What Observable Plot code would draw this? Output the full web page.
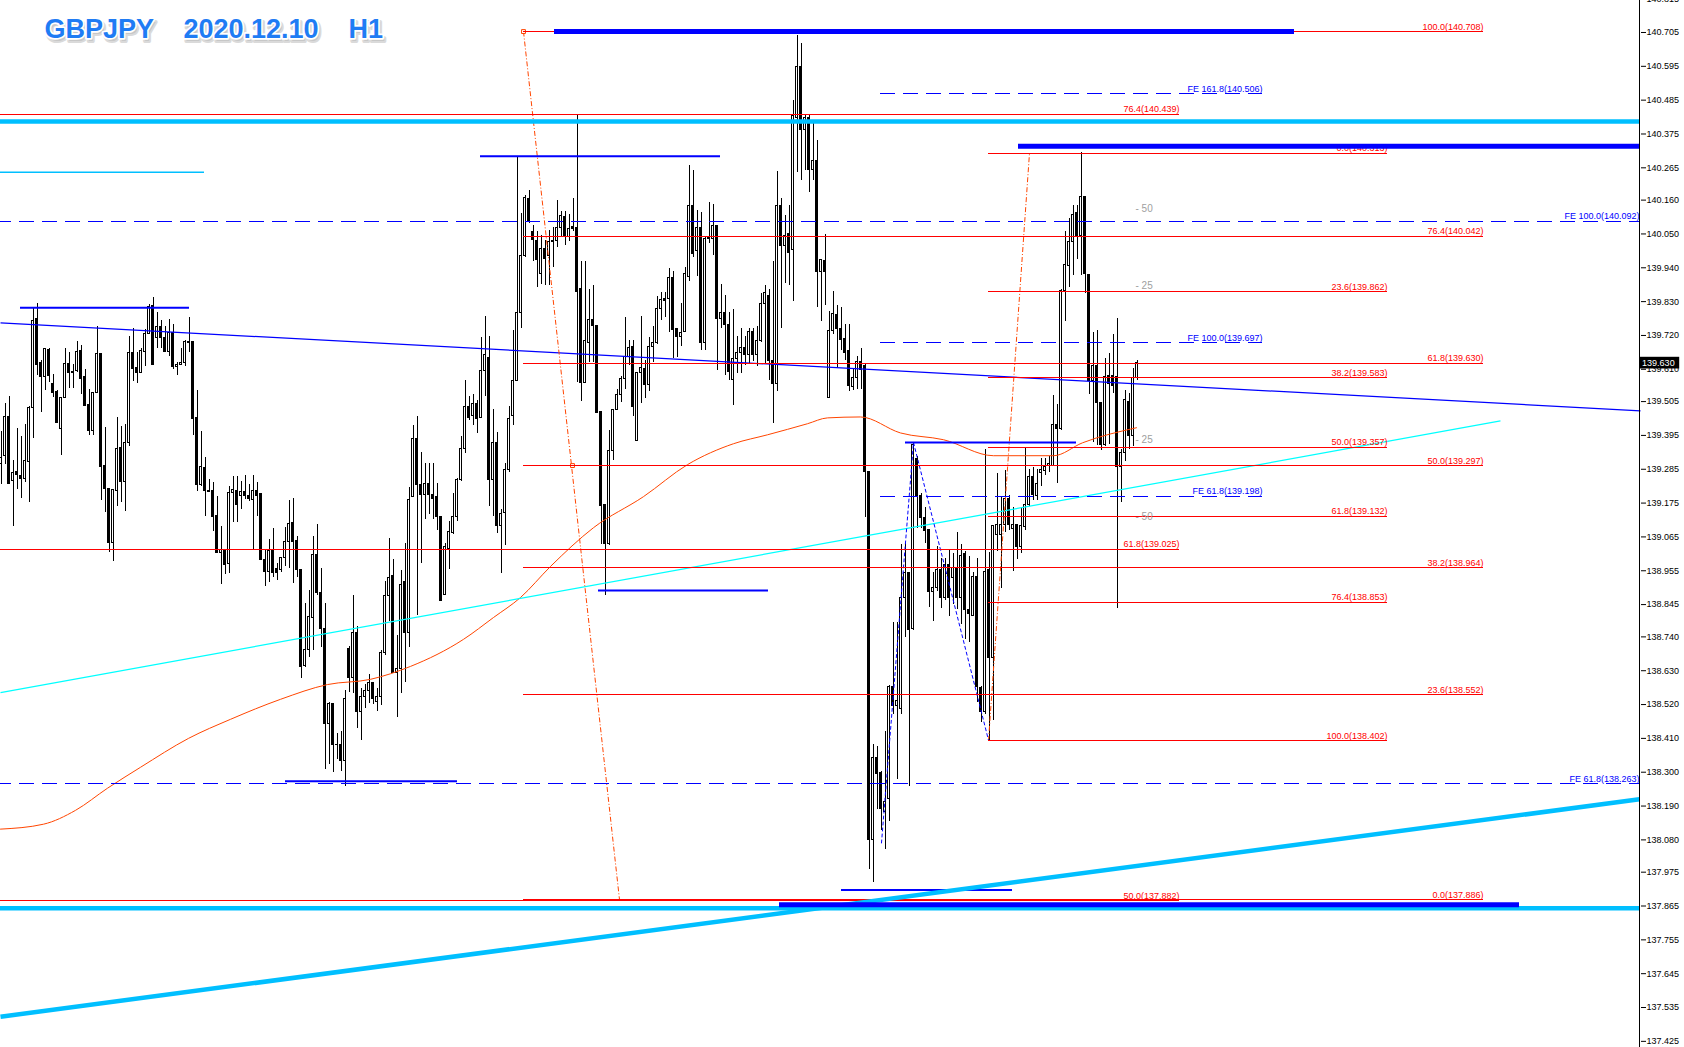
<!DOCTYPE html>
<html><head><meta charset="utf-8">
<script src="https://cdn.jsdelivr.net/npm/d3@7"></script>
<script src="https://cdn.jsdelivr.net/npm/@observablehq/plot@0.6"></script>
<style>html,body{margin:0;padding:0;background:#fff;}#chart{width:1684px;height:1047px;overflow:hidden;}</style>
</head><body><div id="chart"></div>
<script>
// ---------- candles (H1 bars, index 0 = leftmost) ----------
const open = [
139.303,139.329,139.455,139.248,139.277,139.264,139.254,139.309,139.485,139.773,
139.631,139.585,139.673,139.563,139.537,139.416,139.517,139.627,139.601,139.605,
139.670,139.585,139.494,139.410,139.533,139.660,139.296,139.222,139.046,139.215,
139.355,139.245,139.371,139.663,139.614,139.598,139.666,139.725,139.816,139.712,
139.748,139.712,139.666,139.728,139.618,139.624,139.631,139.699,139.699,139.452,
139.235,139.290,139.215,139.215,139.134,139.014,139.024,138.978,139.209,139.215,
139.199,139.212,139.199,139.186,139.215,139.206,138.991,138.952,139.020,138.962,
138.959,138.998,139.050,139.111,139.053,138.959,138.644,138.696,138.803,139.007,
138.884,138.764,138.456,138.521,138.390,138.387,138.336,138.699,138.605,138.754,
138.495,138.543,138.563,138.589,138.527,138.543,138.686,138.874,138.939,138.621,
138.637,138.920,138.751,139.196,139.384,139.235,139.202,139.238,139.202,139.196,
139.131,138.877,139.027,139.079,139.131,139.251,139.352,139.488,139.459,139.498,
139.452,139.605,139.647,139.251,139.371,139.102,139.144,139.283,139.459,139.572,
139.793,139.978,140.163,140.056,140.027,139.920,140.001,139.978,140.024,140.027,
140.069,140.105,140.040,140.072,140.069,139.871,139.566,139.696,139.770,139.751,
139.472,139.170,139.043,139.345,139.478,139.527,139.579,139.650,139.683,139.377,
139.598,139.611,139.559,139.683,139.696,139.806,139.838,139.838,139.907,139.741,
139.715,139.731,139.910,140.140,139.994,140.069,139.696,140.033,140.033,140.075,
139.773,139.793,139.754,139.575,139.644,139.663,139.679,139.657,139.731,139.657,
139.702,139.822,139.848,139.637,139.563,140.140,140.011,140.049,139.998,140.426,
140.592,140.387,140.426,140.257,140.286,139.926,139.962,139.517,139.735,139.787,
139.741,139.709,139.670,139.553,139.582,139.634,139.621,139.277,138.079,138.345,
138.296,138.170,138.212,138.576,138.514,138.504,138.866,138.949,138.764,139.319,
139.199,139.128,139.089,138.887,138.900,138.956,138.865,138.975,138.933,138.965,
138.865,139.011,138.826,138.809,138.936,138.573,138.495,138.956,138.670,139.072,
139.072,139.105,139.189,139.092,139.105,139.033,139.098,139.170,139.261,139.199,
139.274,139.280,139.296,139.296,139.430,139.416,139.864,139.946,140.024,140.118,
140.043,140.170,139.916,139.572,139.621,139.501,139.365,139.589,139.589,139.585,
139.293,139.339,139.504,139.394,139.582];
const high = [
139.407,139.498,139.520,139.313,139.416,139.390,139.429,139.488,139.812,139.825,
139.640,139.679,139.676,139.592,139.540,139.517,139.679,139.663,139.627,139.699,
139.686,139.608,139.543,139.533,139.748,139.660,139.420,139.222,139.218,139.452,
139.423,139.429,139.715,139.744,139.663,139.676,139.738,139.822,139.845,139.796,
139.770,139.748,139.773,139.754,139.631,139.676,139.705,139.777,139.699,139.540,
139.407,139.322,139.251,139.241,139.196,139.098,139.024,139.228,139.260,139.260,
139.244,139.264,139.235,139.264,139.241,139.206,139.024,139.056,139.092,138.978,
138.998,139.095,139.183,139.189,139.066,138.959,138.848,138.891,139.066,139.105,
138.962,138.848,138.527,138.524,138.426,138.433,138.566,138.709,138.874,138.774,
138.572,138.585,138.618,138.589,138.572,138.696,138.920,139.059,138.991,138.745,
138.956,139.043,139.225,139.426,139.455,139.339,139.303,139.303,139.303,139.238,
139.131,139.043,139.115,139.206,139.254,139.390,139.575,139.520,139.527,139.507,
139.712,139.780,139.715,139.478,139.403,139.154,139.303,139.488,139.735,140.299,
140.118,140.176,140.192,140.079,140.059,140.046,140.030,140.062,140.072,140.160,
140.124,140.124,140.114,140.166,140.436,139.959,139.959,139.868,139.881,139.751,
139.472,139.170,139.410,139.478,139.543,139.585,139.777,139.705,139.702,139.598,
139.783,139.640,139.712,139.748,139.848,139.861,139.861,139.939,139.929,139.741,
139.825,139.942,140.274,140.257,140.127,140.121,140.040,140.153,140.147,140.075,
139.887,139.851,139.796,139.803,139.715,139.744,139.715,139.744,139.741,139.748,
139.855,139.881,139.871,139.959,140.254,140.166,140.111,140.144,140.484,140.695,
140.669,140.436,140.439,140.419,140.354,139.965,140.049,139.799,139.864,139.816,
139.812,139.754,139.757,139.614,139.650,139.676,139.627,139.277,138.390,138.384,
138.303,138.433,138.582,138.787,138.787,139.040,139.043,138.949,139.372,139.326,
139.206,139.160,139.089,138.949,139.033,138.995,138.995,139.024,139.011,139.079,
139.040,139.017,139.001,138.949,138.995,138.579,139.348,139.014,139.102,139.270,
139.192,139.280,139.199,139.160,139.105,139.160,139.355,139.283,139.290,139.283,
139.319,139.319,139.326,139.524,139.494,139.871,140.059,140.101,140.144,140.144,
140.316,140.173,139.916,139.728,139.735,139.501,139.644,139.660,139.722,139.774,
139.348,139.540,139.530,139.614,139.640];
const low = [
139.235,139.300,139.238,139.098,139.218,139.189,139.241,139.176,139.384,139.589,
139.468,139.540,139.566,139.517,139.436,139.329,139.517,139.546,139.546,139.598,
139.527,139.491,139.394,139.394,139.530,139.183,139.144,139.014,138.985,139.163,
139.176,139.147,139.358,139.569,139.563,139.598,139.618,139.722,139.624,139.679,
139.679,139.663,139.650,139.608,139.589,139.621,139.618,139.663,139.394,139.212,
139.228,139.131,139.210,139.082,139.014,138.910,138.943,138.946,139.111,139.111,
139.154,139.186,139.180,139.024,139.131,138.991,138.904,138.917,138.933,138.923,
138.949,138.969,138.962,138.913,138.933,138.605,138.641,138.673,138.696,138.874,
138.706,138.310,138.326,138.300,138.342,138.303,138.254,138.559,138.556,138.443,
138.404,138.508,138.524,138.521,138.498,138.517,138.680,138.790,138.621,138.478,
138.556,138.592,138.706,139.192,138.809,138.978,139.121,139.137,139.121,139.085,
138.858,138.877,138.959,139.072,139.115,139.244,139.335,139.442,139.426,139.400,
139.452,139.520,139.163,139.131,139.076,138.946,139.037,139.274,139.426,139.572,
139.744,139.975,140.085,139.959,139.877,139.887,139.884,139.884,139.942,140.007,
140.040,140.011,140.027,140.059,139.566,139.504,139.566,139.631,139.631,139.468,
139.040,138.874,139.037,139.313,139.475,139.501,139.543,139.621,139.455,139.377,
139.498,139.514,139.537,139.631,139.692,139.767,139.777,139.728,139.644,139.647,
139.683,139.728,139.897,139.975,139.913,139.670,139.670,140.020,139.981,139.605,
139.741,139.589,139.575,139.491,139.595,139.595,139.621,139.627,139.634,139.618,
139.696,139.627,139.572,139.433,139.537,139.741,139.890,139.881,139.829,140.251,
140.225,140.257,140.186,140.225,139.812,139.764,139.816,139.517,139.722,139.611,
139.670,139.640,139.537,139.540,139.543,139.543,139.128,137.985,137.943,138.180,
138.112,138.050,138.141,138.488,138.277,138.488,138.738,138.254,138.761,139.092,
139.092,139.043,138.835,138.790,138.887,138.832,138.858,138.806,138.845,138.829,
138.780,138.732,138.722,138.806,138.527,138.462,138.488,138.402,138.469,139.017,
138.897,139.079,139.085,138.952,138.991,139.011,139.085,139.163,139.183,139.183,
139.228,139.264,139.274,139.296,139.238,139.410,139.764,139.877,139.916,139.968,
139.916,139.855,139.527,139.371,139.361,139.345,139.358,139.365,139.530,138.832,
139.176,139.309,139.348,139.358,139.575];
const close = [
139.322,139.455,139.238,139.274,139.267,139.254,139.313,139.485,139.767,139.624,
139.585,139.676,139.589,139.533,139.436,139.517,139.627,139.598,139.598,139.666,
139.579,139.491,139.410,139.533,139.660,139.293,139.222,139.046,139.218,139.352,
139.245,139.371,139.663,139.611,139.598,139.670,139.725,139.812,139.624,139.748,
139.712,139.666,139.728,139.618,139.624,139.631,139.699,139.696,139.449,139.235,
139.293,139.215,139.212,139.131,139.014,139.024,138.975,139.209,139.218,139.170,
139.212,139.199,139.189,139.215,139.199,138.991,138.952,139.020,138.949,138.949,
138.998,139.050,139.108,139.050,138.959,138.641,138.696,138.806,139.007,138.884,
138.764,138.456,138.521,138.387,138.387,138.336,138.537,138.605,138.754,138.495,
138.543,138.563,138.589,138.537,138.543,138.686,138.874,138.933,138.621,138.637,
138.910,138.751,139.186,139.384,139.235,139.202,139.238,139.202,139.189,139.131,
138.858,139.033,139.082,139.131,139.251,139.352,139.488,139.452,139.498,139.449,
139.605,139.657,139.251,139.371,139.102,139.141,139.283,139.449,139.572,139.793,
139.978,140.166,140.092,140.030,139.965,140.001,139.968,140.024,140.027,140.069,
140.108,140.040,140.066,140.066,139.861,139.566,139.702,139.770,139.751,139.468,
139.166,139.043,139.345,139.478,139.527,139.579,139.650,139.679,139.488,139.598,
139.614,139.559,139.683,139.696,139.806,139.835,139.832,139.907,139.738,139.715,
139.728,139.920,140.140,139.984,140.069,139.696,140.033,140.037,140.075,139.773,
139.793,139.754,139.601,139.644,139.663,139.679,139.657,139.731,139.657,139.702,
139.822,139.858,139.637,139.563,140.140,140.011,140.043,139.988,140.432,140.592,
140.387,140.426,140.257,140.286,139.926,139.965,139.926,139.735,139.790,139.741,
139.705,139.663,139.556,139.582,139.634,139.608,139.277,138.079,138.345,138.293,
138.180,138.203,138.576,138.514,138.530,138.866,138.949,138.761,139.365,139.199,
139.128,139.085,138.887,138.900,138.956,138.865,138.975,138.865,138.965,138.865,
139.004,138.826,138.816,138.936,138.576,138.495,138.952,138.670,139.102,139.105,
139.105,139.189,139.105,139.105,139.033,139.102,139.170,139.261,139.202,139.238,
139.283,139.293,139.303,139.430,139.416,139.864,139.949,140.024,140.111,140.043,
140.170,139.920,139.572,139.621,139.501,139.365,139.585,139.563,139.556,139.293,
139.339,139.511,139.394,139.582,139.630];

// ---------- moving average (read at bar positions) ----------
const maIndex = [0,10.75,18.75,26.75,35,47,57.5,70,81.75,92.5,102.5,115.75,123.25,130,137.5,148.25,160.75,171.75,183.25,191.75,201.75,206.75,215,225,235.75,248.25,263.25,270.5,284];
const maValue = [138.115,138.131,138.176,138.248,138.316,138.410,138.472,138.537,138.585,138.602,138.644,138.732,138.803,138.868,138.969,139.095,139.196,139.300,139.368,139.397,139.433,139.452,139.455,139.403,139.381,139.329,139.329,139.371,139.420];

// ---------- y axis tick labels ----------
const yTicks = [140.815,140.705,140.595,140.485,140.375,140.265,140.160,140.050,139.940,139.830,139.720,139.610,139.505,139.395,139.285,139.175,139.065,138.955,138.845,138.740,138.630,138.520,138.410,138.300,138.190,138.080,137.975,137.865,137.755,137.645,137.535,137.425];
const lastPrice = 139.630;

// ---------- Fibonacci retracements ----------
const fib1Levels = ["0.0","23.6","38.2","50.0","61.8","76.4","100.0"];
const fib1Prices = [137.886,138.552,138.964,139.297,139.630,140.042,140.708];
const fib1Bars = [130.75, 370.75];
const fib2Levels = ["0.0","23.6","38.2","50.0","61.8","76.4","100.0"];
const fib2Prices = [140.313,139.862,139.583,139.357,139.132,138.853,138.402];
const fib2Bars = [247, 346.75];
const fib3Levels = ["50.0","61.8","76.4"];
const fib3Prices = [137.882,139.025,140.439];
const fib3Bars = [-1, 294.75];
// Fibonacci expansions
const feALevels = ["FE 161.8","FE 100.0","FE 61.8"];
const feAPrices = [140.506,139.697,139.198];
const feABars = [220, 315.5];
const feBLevels = ["FE 100.0","FE 61.8"];
const feBPrices = [140.092,138.263];
const feBBars = [-1, 409.75];
const feZigBars = [220.25, 228.25, 247];
const feZigPrices = [138.07, 139.372, 138.404];
// fib anchor diagonals
const fibDiagBars = [[130.75,154.75],[247,257.25]];
const fibDiagPrices = [[140.708,137.886],[138.402,140.313]];
// side labels
const sideLabels = ["- 50","- 25","- 25","- 50"];
const sidePrices = [140.131,139.881,139.381,139.131];
const sideBar = 283.75;

// ---------- support/resistance lines ----------
const thinBluePrices = [139.810,140.303,138.891,138.271,139.372,137.917];
const thinBlueFrom = [5,120,149.5,71.25,226.25,210.25];
const thinBlueTo = [47.25,180,192,114.25,269,253];
const thickBluePrices = [140.708,140.335,137.869];
const thickBlueFrom = [138.5,254.5,194.75];
const thickBlueTo = [323.5,410,379.75];
const cyanLevelPrices = [140.416,137.858];
const cyanShortPrice = 140.251, cyanShortBars = [0, 51];
const trendThickCyan = {bars:[0,409.75], prices:[137.505,138.212]};
const trendAqua = {bars:[0,375], prices:[138.559,139.442]};
const trendBlue = {bars:[0,410], prices:[139.761,139.475]};

const titleParts = ["GBPJPY","2020.12.10","H1"];

// ---------- build ----------
const candles = open.map((o,i)=>({i, o, h:high[i], l:low[i], c:close[i]}));
const ma = maIndex.map((x,k)=>({x, y:maValue[k]}));
const fibRows = (levels, prices, bars) => levels.map((lv,k)=>({a:bars[0], b:bars[1], p:prices[k], t:`${lv}(${prices[k].toFixed(3)})`}));
const fib1 = fibRows(fib1Levels, fib1Prices, fib1Bars);
const fib2 = fibRows(fib2Levels, fib2Prices, fib2Bars);
const fib3 = fibRows(fib3Levels, fib3Prices, fib3Bars);
const feA = fibRows(feALevels, feAPrices, feABars);
const feB = fibRows(feBLevels, feBPrices, feBBars);
const segs = (prices, from, to) => prices.map((p,k)=>({p, a:from[k], b:to[k]}));
const thinBlue = segs(thinBluePrices, thinBlueFrom, thinBlueTo);
const thickBlue = segs(thickBluePrices, thickBlueFrom, thickBlueTo);
const zig = feZigBars.map((x,k)=>({x, y:feZigPrices[k]}));
const diags = fibDiagBars.map((b,k)=>({x1:b[0], x2:b[1], y1:fibDiagPrices[k][0], y2:fibDiagPrices[k][1]}));
const trend = t => [{x1:t.bars[0], x2:t.bars[1], y1:t.prices[0], y2:t.prices[1]}];

const FONT = "Liberation Sans, Arial, sans-serif";
const labelOpts = (color) => ({x:"b", y:"p", text:"t", textAnchor:"end", lineAnchor:"bottom", dy:-2, fill:color, fontSize:9, fontFamily:FONT});

const titleMarks = [];
const titleX = [44, 183, 348];
titleParts.forEach((t,k)=>{
  titleMarks.push(Plot.text([t], {frameAnchor:"top-left", text:d=>d, dx:titleX[k]+2, dy:40, textAnchor:"start", lineAnchor:"bottom", fontSize:27, fontWeight:"bold", fontFamily:FONT, fill:"#9a9a9a", stroke:"#bdbdbd", strokeWidth:4, opacity:0.55}));
  titleMarks.push(Plot.text([t], {frameAnchor:"top-left", text:d=>d, dx:titleX[k], dy:37, textAnchor:"start", lineAnchor:"bottom", fontSize:27, fontWeight:"bold", fontFamily:FONT, fill:"#1f7cf4", stroke:"white", strokeWidth:3.5, paintOrder:"stroke"}));
});

const chart = Plot.plot({
  width: 1684, height: 1047,
  marginLeft: 0, marginRight: 44, marginTop: 0, marginBottom: 0,
  style: {background:"white", color:"black", fontFamily: FONT, fontSize:"9px"},
  x: {domain:[0,410], axis:null},
  y: {domain:[137.405,140.809], axis:"right", ticks:yTicks, tickFormat:d3.format(".3f"), tickSize:5, tickPadding:1, label:null},
  marks: [
    // candles
    Plot.ruleX(candles, {x:"i", y1:"l", y2:"h", stroke:"black", strokeWidth:1, dx:0.5, shapeRendering:"crispEdges"}),
    Plot.rect(candles, {x1:d=>d.i-0.125, x2:d=>d.i+0.375, y1:"o", y2:"c", fill:d=>d.c>=d.o?"white":"black", stroke:"black", strokeWidth:1, shapeRendering:"crispEdges"}),
    // moving average
    Plot.line(ma, {x:"x", y:"y", stroke:"#ff4500", strokeWidth:1, curve:"monotone-x"}),
    // trend lines
    Plot.link(trend(trendAqua), {x1:"x1", x2:"x2", y1:"y1", y2:"y2", stroke:"#00ffff", strokeWidth:1.2}),
    Plot.link(trend(trendBlue), {x1:"x1", x2:"x2", y1:"y1", y2:"y2", stroke:"#0000ff", strokeWidth:1.2}),
    Plot.ruleY([cyanShortPrice], {x1:cyanShortBars[0], x2:cyanShortBars[1], stroke:"#00bfff", strokeWidth:1.5}),
    // fib anchor diagonals
    Plot.link(diags, {x1:"x1", x2:"x2", y1:"y1", y2:"y2", stroke:"#ff4500", strokeWidth:1, strokeDasharray:"5,2,1,2"}),
    Plot.dot([{x:fib1Bars[0], y:fib1Prices[6]}, {x:143, y:fib1Prices[3]}], {x:"x", y:"y", symbol:"square", r:2.2, stroke:"#ff4500", fill:"white", strokeWidth:1}),
    // FE zigzag
    Plot.line(zig, {x:"x", y:"y", stroke:"#0000ff", strokeWidth:1, strokeDasharray:"3,3"}),
    // fibonacci retracement levels
    Plot.ruleY(fib3, {y:"p", x1:"a", x2:"b", stroke:"#ff0000", strokeWidth:1, shapeRendering:"crispEdges"}),
    Plot.ruleY(fib1, {y:"p", x1:"a", x2:"b", stroke:"#ff0000", strokeWidth:1, shapeRendering:"crispEdges"}),
    Plot.ruleY(fib2, {y:"p", x1:"a", x2:"b", stroke:"#ff0000", strokeWidth:1, shapeRendering:"crispEdges"}),
    Plot.text(fib3, labelOpts("#ff0000")),
    Plot.text(fib1, labelOpts("#ff0000")),
    Plot.text(fib2, labelOpts("#ff0000")),
    // fibonacci expansions
    Plot.ruleY(feA, {y:"p", x1:"a", x2:"b", stroke:"#0000ff", strokeWidth:1, strokeDasharray:"15,8", shapeRendering:"crispEdges"}),
    Plot.ruleY(feB, {y:"p", x1:"a", x2:"b", stroke:"#0000ff", strokeWidth:1, strokeDasharray:"15,8", shapeRendering:"crispEdges"}),
    Plot.text(feA, labelOpts("#0000ff")),
    Plot.text(feB, labelOpts("#0000ff")),
    Plot.text(sideLabels.map((t,k)=>({t, p:sidePrices[k]})), {x:sideBar, y:"p", text:"t", textAnchor:"start", fill:"#a0a0a0", fontSize:10, fontFamily:FONT}),
    // horizontal support / resistance
    Plot.ruleY(thinBlue, {y:"p", x1:"a", x2:"b", stroke:"#0000ff", strokeWidth:2}),
    Plot.ruleY(cyanLevelPrices, {x1:0, x2:410, stroke:"#00bfff", strokeWidth:4.5}),
    Plot.link(trend(trendThickCyan), {x1:"x1", x2:"x2", y1:"y1", y2:"y2", stroke:"#00bfff", strokeWidth:4.5}),
    Plot.ruleY(thickBlue, {y:"p", x1:"a", x2:"b", stroke:"#0000ff", strokeWidth:5}),
    // axis line and current price
    Plot.ruleX([409.75], {stroke:"black", strokeWidth:1}),
    Plot.rect([lastPrice], {x1:409.9, x2:419.8, y1:d=>d-0.019, y2:d=>d+0.019, fill:"black"}),
    Plot.text([lastPrice], {x:410.4, y:d=>d, text:d=>d.toFixed(3), textAnchor:"start", fill:"white", fontSize:9, fontFamily:FONT}),
    ...titleMarks
  ]
});
document.getElementById("chart").appendChild(chart);
</script>
</body></html>
